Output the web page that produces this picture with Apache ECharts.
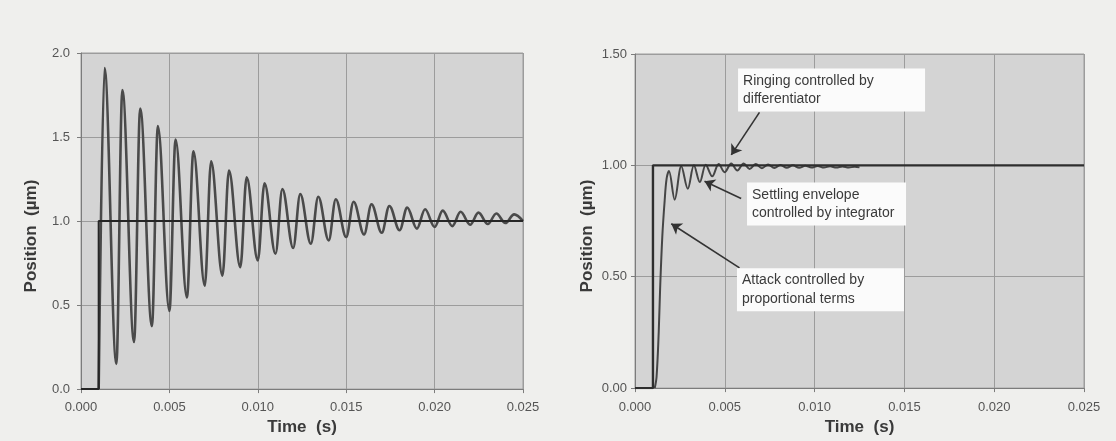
<!DOCTYPE html>
<html>
<head>
<meta charset="utf-8">
<script src="https://cdn.jsdelivr.net/npm/echarts@6/dist/echarts.min.js"></script>
<style>
  html, body { margin: 0; padding: 0; background: #efefed; }
  #chart { width: 1116px; height: 441px; }
</style>
</head>
<body>
<div id="chart"></div>
<script>
// ---------- DATA ----------
// Shared x-axis ticks (s)
const timeTicks = ['0.000', '0.005', '0.010', '0.015', '0.020', '0.025'];

// Left panel: step command (µm)
const leftCmdTime = [0, 0.001, 0.001, 0.025];
const leftCmdPos  = [0, 0, 1.0, 1.0];

// Left panel: lightly damped response (peaks and troughs)
const leftRespTime = [
  0.00100,
  0.00133, 0.00200, 0.00234, 0.00300, 0.00335, 0.00401, 0.00435, 0.00500,
  0.00535, 0.00599, 0.00636, 0.00700, 0.00736, 0.00800, 0.00837, 0.00901,
  0.00937, 0.01000, 0.01038, 0.01100, 0.01139, 0.01200, 0.01240, 0.01300,
  0.01342, 0.01401, 0.01441, 0.01500, 0.01542, 0.01601, 0.01643, 0.01701,
  0.01744, 0.01802, 0.01845, 0.01900, 0.01946, 0.02000, 0.02046, 0.02100,
  0.02147, 0.02201, 0.02248, 0.02301, 0.02349, 0.02400,
  0.02450, 0.02500
];
const leftRespPos = [
  0.00,
  1.91, 0.15, 1.78, 0.28, 1.67, 0.375, 1.565, 0.465,
  1.485, 0.545, 1.415, 0.615, 1.355, 0.675, 1.30, 0.725,
  1.26, 0.765, 1.225, 0.805, 1.19, 0.84, 1.16, 0.865,
  1.145, 0.885, 1.13, 0.905, 1.115, 0.92, 1.10, 0.93,
  1.09, 0.945, 1.08, 0.955, 1.07, 0.965, 1.062, 0.97,
  1.055, 0.978, 1.05, 0.982, 1.045, 0.988,
  1.04, 1.00
];

// Right panel: step command (µm)
const rightCmdTime = [0, 0.001, 0.001, 0.025];
const rightCmdPos  = [0, 0, 1.0, 1.0];

// Right panel: PID-controlled response
const rightRespTime = [
  0.00110, 0.00120, 0.00132, 0.00140, 0.00152, 0.00165, 0.00176,
  0.00189, 0.00221, 0.00258, 0.00294, 0.00328, 0.00361, 0.00394, 0.00430,
  0.00466, 0.00499, 0.00536, 0.00570, 0.00605, 0.00638, 0.00672, 0.00707,
  0.00741, 0.00776, 0.00810, 0.00845, 0.00879, 0.00914, 0.00948, 0.00983,
  0.01017, 0.01052, 0.01086, 0.01121, 0.01155, 0.01190, 0.01224, 0.01250
];
const rightRespPos = [
  0.00, 0.05, 0.25, 0.45, 0.68, 0.84, 0.94,
  0.975, 0.846, 0.996, 0.895, 1.000, 0.925, 1.003, 0.951,
  1.006, 0.969, 1.008, 0.977, 1.008, 0.984, 1.006, 0.987,
  1.004, 0.988, 1.002, 0.989, 1.000, 0.989, 0.998, 0.990,
  0.997, 0.990, 0.996, 0.990, 0.995, 0.990, 0.994, 0.991
];

// Right panel annotations (text, anchor [t, pos], arrow tail [t, pos], arrow tip [t, pos])
const noteTexts  = ['Ringing controlled by\ndifferentiator',
                    'Settling envelope\ncontrolled by integrator',
                    'Attack controlled by\nproportional terms'];
const noteAnchor = [[0.00571, 1.338], [0.00621, 0.827], [0.00565, 0.442]];
const arrowTail  = [[0.00693, 1.238], [0.00591, 0.851], [0.00582, 0.540]];
const arrowTip   = [[0.00536, 1.047], [0.00387, 0.929], [0.00202, 0.738]];

// ---------- CHART ----------
const zip = (a, b) => a.map((v, i) => [v, b[i]]);
const FONT = '"Liberation Sans", Arial, sans-serif';

function xAxisFor(gridIndex, labelMargin, nameGap) {
  return {
    type: 'value', gridIndex, min: 0, max: 0.025, interval: 0.005,
    axisLine: { show: true, lineStyle: { color: '#7c7c7c', width: 1 } },
    axisTick: { show: true, length: 4, lineStyle: { color: '#7c7c7c' } },
    axisLabel: { margin: labelMargin, color: '#555', fontSize: 13, fontFamily: FONT,
                 formatter: v => timeTicks[Math.round(v / 0.005)] },
    splitLine: { show: true, lineStyle: { color: '#9c9c9c', width: 1 } },
    name: 'Time  (s)', nameLocation: 'middle', nameGap,
    nameTextStyle: { fontWeight: 'bold', fontSize: 17, color: '#3a3a3a', fontFamily: FONT }
  };
}
function yAxisFor(gridIndex, max, digits, labelMargin, nameGap) {
  return {
    type: 'value', gridIndex, min: 0, max, interval: 0.5,
    axisLine: { show: true, lineStyle: { color: '#7c7c7c', width: 1 } },
    axisTick: { show: true, length: 4, lineStyle: { color: '#7c7c7c' } },
    axisLabel: { margin: labelMargin, color: '#555', fontSize: 13, fontFamily: FONT,
                 formatter: v => v.toFixed(digits) },
    splitLine: { show: true, lineStyle: { color: '#9c9c9c', width: 1 } },
    name: 'Position  (µm)', nameLocation: 'middle', nameGap, nameRotate: 90,
    nameTextStyle: { fontWeight: 'bold', fontSize: 17, color: '#3a3a3a', fontFamily: FONT,
                     padding: [0, 30, 0, 0] }
  };
}

const chart = echarts.init(document.getElementById('chart'), null, { renderer: 'canvas' });
chart.setOption({
  animation: false,
  backgroundColor: '#efefed',
  grid: [
    { left: 81, top: 53, width: 442, height: 339, show: true,
      backgroundColor: '#d4d4d4', borderColor: '#9c9c9c', borderWidth: 1 },
    { left: 635, top: 54, width: 449, height: 341, show: true,
      backgroundColor: '#d4d4d4', borderColor: '#9c9c9c', borderWidth: 1 }
  ],
  xAxis: [ xAxisFor(0, 12, 27), xAxisFor(1, 13, 25) ],
  yAxis: [ yAxisFor(0, 2.0, 1, 11, 41), yAxisFor(1, 1.5, 2, 8, 39) ],
  series: [
    { type: 'line', xAxisIndex: 0, yAxisIndex: 0, data: zip(leftRespTime, leftRespPos),
      showSymbol: false, symbol: 'none', smooth: 0.36, smoothMonotone: 'x',
      lineStyle: { color: '#4a4a4a', width: 2.6, join: 'round' }, z: 2 },
    { type: 'line', xAxisIndex: 0, yAxisIndex: 0, data: zip(leftCmdTime, leftCmdPos),
      showSymbol: false, symbol: 'none',
      lineStyle: { color: '#262626', width: 2 }, z: 3 },
    { type: 'line', xAxisIndex: 1, yAxisIndex: 1, data: zip(rightRespTime, rightRespPos),
      showSymbol: false, symbol: 'none', smooth: 0.35,
      lineStyle: { color: '#454545', width: 2, join: 'round' }, z: 2 },
    { type: 'line', xAxisIndex: 1, yAxisIndex: 1, data: zip(rightCmdTime, rightCmdPos),
      showSymbol: false, symbol: 'none',
      lineStyle: { color: '#2e2e2e', width: 2.4 }, z: 3,
      markLine: {
        silent: true, animation: false,
        symbol: ['none', 'arrow'], symbolSize: 10,
        label: { show: false },
        lineStyle: { color: '#333', width: 1.6, type: 'solid' },
        emphasis: { disabled: true },
        data: arrowTail.map((t, i) => [{ coord: t }, { coord: arrowTip[i] }])
      },
      markPoint: {
        silent: true, animation: false,
        symbol: 'circle', symbolSize: 1,
        itemStyle: { color: 'rgba(0,0,0,0)' },
        data: noteTexts.map((txt, i) => ({
          coord: noteAnchor[i],
          label: {
            show: true, position: 'right', distance: 0,
            formatter: txt,
            backgroundColor: '#fbfbfb',
            padding: [3, 4, 3, 5],
            width: [178, 150, 158][i],
            lineHeight: 18.5,
            fontSize: 14, color: '#3a3a3a', fontFamily: FONT
          }
        }))
      }
    }
  ]
});
</script>
</body>
</html>
